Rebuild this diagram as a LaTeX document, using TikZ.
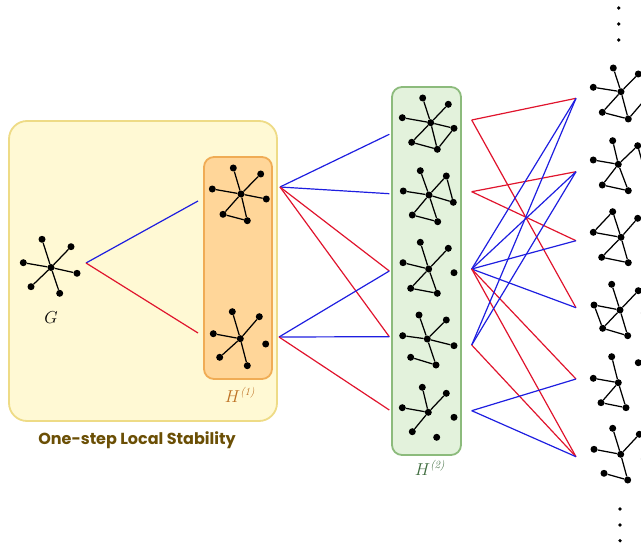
\documentclass[tikz,border=0pt]{standalone}
\usepackage{fontspec}
\newfontfamily\lblfont{Poppins}
\definecolor{yfill}{HTML}{FFF9D4}
\definecolor{ydraw}{HTML}{EEDB86}
\definecolor{ofill}{HTML}{FFD699}
\definecolor{odraw}{HTML}{F0AC55}
\definecolor{gfill}{HTML}{E3F2DC}
\definecolor{gdraw}{HTML}{8CBB7C}
\definecolor{lblbrown}{HTML}{6B4F05}
\definecolor{lblorange}{HTML}{BD7022}
\definecolor{lblgreen}{HTML}{3D6B3D}
\definecolor{linkblue}{HTML}{1E1EE0}
\definecolor{linkred}{HTML}{E0142D}
\tikzset{
  dot/.style={circle,fill=black,inner sep=0pt,minimum size=7pt},
  gedge/.style={line width=1.25pt,black},
  panel/.style={rounded corners=#1,line width=1.8pt},
  bl/.style={linkblue,line width=1.2pt},
  rd/.style={linkred,line width=1.2pt},
  vdot/.style={circle,fill=black,inner sep=0pt,minimum size=3.6pt},
}
% seven vertices: centre, top, upper right, left, right, lower left, bottom
\newcommand\gnodes[8]{%
  \foreach \n/\p in {c/{#2},t/{#3},ur/{#4},l/{#5},r/{#6},ll/{#7},b/{#8}}
    \node[dot] (#1\n) at (\p) {};}
\newcommand\gedges[2]{%
  \foreach \u/\v in {#2} \draw[gedge] (#1\u) -- (#1\v);}
\newcommand\levelsup[1]{^{\hbox{\fontsize{11}{12}\selectfont\itshape (#1)}}}
\begin{document}
\begin{tikzpicture}[x=1pt,y=-1pt]
\useasboundingbox (0,0) rectangle (641,543);
\clip (0,0) rectangle (641,543);

% panels
\draw[panel=18pt,fill=yfill,draw=ydraw] (9,121) rectangle (277,421);
\draw[panel=10pt,fill=ofill,draw=odraw] (204,157) rectangle (272,379);
\draw[panel=10pt,fill=gfill,draw=gdraw] (392,87) rectangle (461,455);

\node[text=lblbrown,font=\lblfont\bfseries\fontsize{16}{18}\selectfont] (lbl) at (137,440) {One-step Local Stability};
\node[text=black,font=\fontsize{17}{19}\selectfont] (lg) at (51,318) {$G$};
\node[text=lblorange,font=\fontsize{19}{21}\selectfont] (lh1) at (240,395) {$H\levelsup{1}$};
\node[text=lblgreen,font=\fontsize{19}{21}\selectfont] (lh2) at (430,468) {$H\levelsup{2}$};

% connector ends
\coordinate (g0o) at (86,263);
\coordinate (a1i) at (198,201);
\coordinate (a2i) at (198,333);
\coordinate (a1o) at (280,187);
\coordinate (a2o) at (279,337);
\foreach \k/\y in {1/134.3,2/193.7,3/271,4/336.7,5/410}
  \coordinate (b\k i) at (389.3,\y);
\foreach \k/\y in {1/120,2/191.7,3/269,4/345,5/410.7}
  \coordinate (b\k o) at (471.7,\y);
\foreach \k/\y in {1/98.3,2/171.7,3/240.7,4/307.7,5/379,6/456.7}
  \coordinate (c\k i) at (576,\y);

% links between levels
\draw[bl] (g0o) -- (a1i);
\draw[rd] (g0o) -- (a2i);
\draw[bl] (a1o) -- (b1i);
\draw[bl] (a1o) -- (b2i);
\draw[rd] (a1o) -- (b3i);
\draw[rd] (a1o) -- (b4i);
\draw[bl] (a2o) -- (b3i);
\draw[bl] (a2o) -- (b4i);
\draw[rd] (a2o) -- (b5i);

\draw[rd] (b1o) -- (c1i);
\draw[rd] (b1o) -- (c4i);
\draw[rd] (b2o) -- (c2i);
\draw[rd] (b2o) -- (c3i);
\draw[bl] (b3o) -- (c1i);
\draw[bl] (b3o) -- (c2i);
\draw[bl] (b3o) -- (c3i);
\draw[bl] (b3o) -- (c4i);
\draw[rd] (b3o) -- (c5i);
\draw[rd] (b3o) -- (c6i);
\draw[bl] (b4o) -- (c1i);
\draw[bl] (b4o) -- (c2i);
\draw[rd] (b4o) -- (c6i);
\draw[bl] (b5o) -- (c5i);
\draw[bl] (b5o) -- (c6i);

% G
\gnodes{g0}{51,267.5}{42,239.3}{71,246.7}{23.3,262.7}{77,273.3}{31,286.7}{59.7,293.3}
\gedges{g0}{c/t,c/ur,c/l,c/r,c/ll,c/b}

% H(1)
\gnodes{a1}{241,194}{233.3,168}{260.7,174}{212.3,189}{266.3,199}{223,214.3}{247.3,220.7}
\gedges{a1}{c/t,c/ur,c/l,c/r,c/ll,c/b,ll/b}
\gnodes{a2}{240.3,338.7}{232.3,311.7}{259.3,316.7}{213.3,333.7}{265.7,344}{219.7,357.3}{247.3,365.7}
\gedges{a2}{c/t,c/ur,c/l,c/ll,c/b}

% H(2)
\gnodes{b1}{430.7,122.7}{422.7,98}{448.3,104.3}{402.3,117.7}{454,128.3}{411.7,142.3}{437.3,149.3}
\gedges{b1}{c/t,c/ur,c/l,c/r,c/ll,c/b,ll/b,r/b}
\gnodes{b2}{429,195}{420.3,170.7}{446.3,176}{403.3,191}{453.3,202.3}{412.3,215}{437.7,221.7}
\gedges{b2}{c/t,c/ur,c/l,c/r,c/ll,c/b,ur/r,ll/b}
\gnodes{b3}{428.7,269}{420.3,242.3}{448.3,248.3}{403,262.7}{454,272.7}{410.7,288.3}{437.3,293.3}
\gedges{b3}{c/t,c/ur,c/l,c/ll,c/b,ll/b}
\gnodes{b4}{427.3,339}{419,315}{446.3,320}{402.7,335.7}{454,345.7}{410.7,357.3}{436,365}
\gedges{b4}{c/t,c/ur,c/l,c/r,c/b,ll/b}
\gnodes{b5}{428.3,412.3}{422.3,387.3}{446.3,393.3}{402.3,407.7}{454,417.3}{412.3,431.7}{436.7,437.3}
\gedges{b5}{c/t,c/ur,c/l,c/ll}

% third level
\gnodes{c1}{621,91.7}{613.3,68}{638.3,74}{593.3,87.3}{648,96}{602.3,112.3}{628.3,119}
\gedges{c1}{c/t,c/ur,c/l,c/ll,c/b,ll/b,b/r}
\gnodes{c2}{618.3,164.3}{612.7,140.7}{637.7,145.7}{593.3,160}{645,172}{602.3,185}{628.3,190.7}
\gedges{c2}{c/t,c/ur,c/l,c/ll,c/b,ll/b,ur/r}
\gnodes{c3}{621,237.3}{612.7,211.7}{637.7,218.3}{593.3,232.3}{647,243}{601.7,257.3}{628.3,262.7}
\gedges{c3}{c/t,c/ur,c/l,c/ll,c/b,ll/b,t/l}
\gnodes{c4}{620,310}{611.7,284.3}{638.3,290.7}{594,305}{644.3,313}{602.7,328.3}{627.7,335.7}
\gedges{c4}{c/t,c/ur,c/l,c/ll,c/b,ll/b,l/ll}
\gnodes{c5}{618.3,382.7}{611.7,356.7}{638.3,362.7}{593.3,378.3}{646,388}{601,402.7}{626,407.7}
\gedges{c5}{c/t,c/l,c/ll,c/b,ll/b}
\gnodes{c6}{620.7,454.3}{612.7,428.3}{639.3,434.3}{594,449.3}{644.3,459}{604,473.3}{627.7,480}
\gedges{c6}{c/t,c/ur,c/l,c/b,ll/b}

% vertical ellipses
\foreach \k/\y in {1/8,2/24,3/40} \node[vdot] (up\k) at (618.7,\y) {};
\foreach \k/\y in {1/509,2/525,3/540.7} \node[vdot] (dn\k) at (620,\y) {};
\end{tikzpicture}
\end{document}
